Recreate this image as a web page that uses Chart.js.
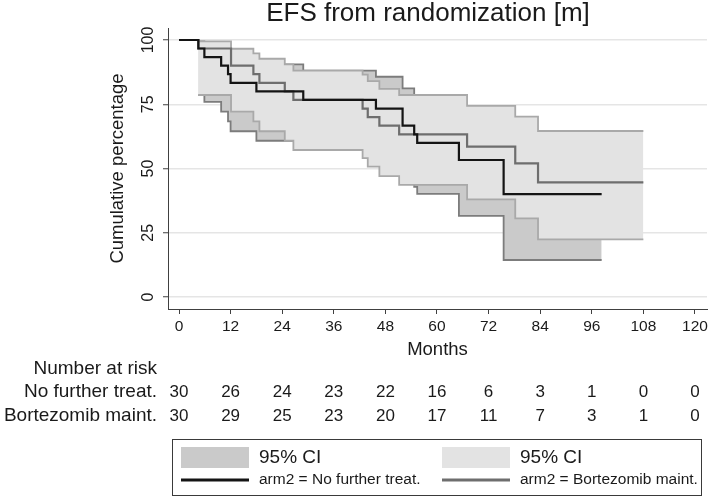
<!DOCTYPE html>
<html><head><meta charset="utf-8">
<script src="https://cdn.jsdelivr.net/npm/chart.js@4.4.1/dist/chart.umd.min.js"></script>
<style>html,body{margin:0;padding:0;background:#fff}#wrap{width:709px;height:498px}</style>
</head><body><div id="wrap"><canvas id="c" width="709" height="498"></canvas></div>
<script>
const FONT = "'Liberation Sans', Arial, sans-serif";
const TEXT = '#1a1a1a';

// ---- tick labels / categories ----
const monthTicks = [0, 12, 24, 36, 48, 60, 72, 84, 96, 108, 120];
const percentTicks = [0, 25, 50, 75, 100];
const riskRowLabels = ['No further treat.', 'Bortezomib maint.'];
const atRiskNoFurther = [30, 26, 24, 23, 22, 16, 6, 3, 1, 0, 0];
const atRiskBortezomib = [30, 29, 25, 23, 20, 17, 11, 7, 3, 1, 0];

// ---- Kaplan-Meier estimates (months, %) ----
const kmNoFurtherTime = [0, 4.5, 5.9, 9.8, 11.4, 12.0, 18.0, 28.9, 45.8, 52.0, 54.7, 55.4, 65.1, 75.5, 98.3];
const kmNoFurtherPct  = [100, 96.7, 93.3, 90.0, 86.7, 83.3, 80.0, 76.7, 73.3, 66.7, 63.3, 60.0, 53.3, 40.0, 40.0];
const kmBortezomibTime = [0, 4.5, 12.1, 17.3, 18.7, 24.6, 26.6, 42.7, 43.9, 46.6, 51.2, 67.0, 78.2, 83.5, 108.0];
const kmBortezomibPct  = [100, 96.7, 90.0, 86.7, 83.3, 80.0, 76.7, 73.3, 70.0, 66.7, 63.3, 58.5, 52.0, 44.6, 44.6];

// ---- 95% confidence bands ----
const ciNoFurtherTime = [4.5, 5.9, 9.8, 11.4, 12.0, 18.0, 28.9, 45.8, 52.0, 54.7, 55.4, 65.1, 75.5, 98.3];
const ciNoFurtherLow  = [78.6, 75.9, 72.1, 68.3, 64.5, 60.8, 57.2, 53.7, 47.0, 42.9, 40.1, 31.6, 14.4, 14.4];
const ciNoFurtherHigh = [99.5, 98.3, 96.7, 94.8, 92.7, 90.5, 88.1, 85.7, 81.2, 78.6, 75.9, 70.0, 62.0, 62.0];
const ciBortezomibTime = [4.5, 12.1, 17.3, 18.7, 24.6, 26.6, 42.7, 43.9, 46.6, 51.2, 67.0, 78.2, 83.5, 108.0];
const ciBortezomibLow  = [78.6, 72.1, 68.3, 64.5, 60.8, 57.2, 54.0, 50.7, 47.0, 43.6, 38.0, 30.6, 22.4, 22.4];
const ciBortezomibHigh = [99.5, 96.6, 94.8, 92.7, 90.5, 88.1, 86.5, 84.0, 81.0, 78.6, 74.4, 70.2, 64.6, 64.6];

const pts = (xs, ys) => xs.map((x, i) => ({x, y: ys[i]}));

const COL = {
  ciDarkFill: '#cacaca', ciDarkLine: '#7c7c7c',
  ciLightFill: '#e3e3e3', ciLightLine: '#a9a9a9',
  kmNo: '#141414', kmBz: '#6e6e6e'
};

const stepLine = (label, data, color, width, extra) => Object.assign({
  label, data, borderColor: color, borderWidth: width, stepped: 'before',
  pointRadius: 0, pointHoverRadius: 0, fill: false, tension: 0,
  borderJoinStyle: 'miter', borderCapStyle: 'butt'
}, extra || {});

const datasets = [
  stepLine('arm2 = No further treat.', pts(kmNoFurtherTime, kmNoFurtherPct), COL.kmNo, 2.2),
  stepLine('arm2 = Bortezomib maint.', pts(kmBortezomibTime, kmBortezomibPct), COL.kmBz, 2.2),
  stepLine('95% CI low (Bortezomib)', pts(ciBortezomibTime, ciBortezomibLow), COL.ciLightLine, 1.8),
  stepLine('95% CI (Bortezomib)', pts(ciBortezomibTime, ciBortezomibHigh), COL.ciLightLine, 1.8,
           {fill: 2, backgroundColor: COL.ciLightFill}),
  stepLine('95% CI low (No further)', pts(ciNoFurtherTime, ciNoFurtherLow), COL.ciDarkLine, 1.8),
  stepLine('95% CI (No further)', pts(ciNoFurtherTime, ciNoFurtherHigh), COL.ciDarkLine, 1.8,
           {fill: 4, backgroundColor: COL.ciDarkFill})
];

const noPad = s => { s.paddingLeft = 0; s.paddingRight = 0; s.paddingTop = 0; s.paddingBottom = 0; };

const stataPlugin = {
  id: 'stataExtras',
  afterLayout(chart) {
    const t = chart.titleBlock;
    if (t) { t.left = 149; t.right = 707; t.width = 558; }
  },
  afterDraw(chart) {
    const ctx = chart.ctx, xs = chart.scales.x;
    ctx.save();
    ctx.fillStyle = TEXT;
    ctx.textBaseline = 'middle';
    // number at risk table
    ctx.font = `19px ${FONT}`;
    ctx.textAlign = 'right';
    ctx.fillText('Number at risk', 157, 369);
    const rows = [atRiskNoFurther, atRiskBortezomib];
    riskRowLabels.forEach((lab, i) => ctx.fillText(lab, 157, 392 + i * 24));
    ctx.textAlign = 'center';
    ctx.font = `17px ${FONT}`;
    rows.forEach((row, i) => row.forEach((n, j) =>
      ctx.fillText(String(n), xs.getPixelForValue(monthTicks[j]), 392 + i * 24)));
    // legend box
    ctx.strokeStyle = '#3a3a3a';
    ctx.lineWidth = 1;
    ctx.strokeRect(172.5, 439.5, 529, 56);
    const entries = [
      {x: 181, fill: COL.ciDarkFill, line: COL.kmNo, text: riskRowLabels[0]},
      {x: 442, fill: COL.ciLightFill, line: COL.kmBz, text: riskRowLabels[1]}
    ];
    entries.forEach(e => {
      ctx.fillStyle = e.fill;
      ctx.fillRect(e.x, 447, 68, 21);
      ctx.strokeStyle = e.line;
      ctx.lineWidth = 3;
      ctx.beginPath(); ctx.moveTo(e.x, 480); ctx.lineTo(e.x + 68, 480); ctx.stroke();
      ctx.fillStyle = TEXT;
      ctx.textAlign = 'left';
      ctx.font = `19px ${FONT}`;
      ctx.fillText('95% CI', e.x + 78, 458);
      ctx.font = `15.5px ${FONT}`;
      ctx.fillText('arm2 = ' + e.text, e.x + 78, 480);
    });
    ctx.restore();
  }
};

new Chart(document.getElementById('c'), {
  type: 'line',
  data: {datasets},
  plugins: [stataPlugin],
  options: {
    responsive: false, animation: false, devicePixelRatio: 1,
    layout: {padding: {left: 0, right: 2, top: 0, bottom: 0}},
    plugins: {
      legend: {display: false}, tooltip: {enabled: false},
      filler: {propagate: false},
      title: {display: true, text: 'EFS from randomization [m]', color: TEXT,
              font: {family: FONT, size: 26, weight: 'normal', lineHeight: 1},
              padding: {top: 1, bottom: 1}}
    },
    scales: {
      x: {
        type: 'linear', min: -2.56, max: 122.8,
        afterBuildTicks: s => { s.ticks = monthTicks.map(v => ({value: v})); },
        afterFit: s => { s.height = 189; noPad(s); },
        ticks: {color: TEXT, font: {family: FONT, size: 15.5}, padding: 3, autoSkip: false, maxRotation: 0},
        grid: {drawOnChartArea: false, drawTicks: true, tickLength: 5, tickColor: '#404040', tickWidth: 1},
        border: {display: true, color: '#404040', width: 1},
        title: {display: true, text: 'Months', color: TEXT, font: {family: FONT, size: 18.5, lineHeight: 1.2},
                padding: {top: 0, bottom: 137}}
      },
      y: {
        type: 'linear', min: -4.67, max: 104.67,
        afterBuildTicks: s => { s.ticks = percentTicks.map(v => ({value: v})); },
        afterFit: s => { s.width = 168; noPad(s); },
        ticks: {color: TEXT, font: {family: FONT, size: 16}, padding: 1, minRotation: 90, maxRotation: 90, crossAlign: 'center'},
        grid: {color: '#e5e5e5', lineWidth: 1.5, drawTicks: true, tickLength: 5, tickColor: '#404040', tickWidth: 1},
        border: {display: true, color: '#404040', width: 1},
        title: {display: true, text: 'Cumulative percentage', color: TEXT, font: {family: FONT, size: 18.5, lineHeight: 1.2},
                padding: {top: 107, bottom: 0}}
      }
    }
  }
});
</script></body></html>
